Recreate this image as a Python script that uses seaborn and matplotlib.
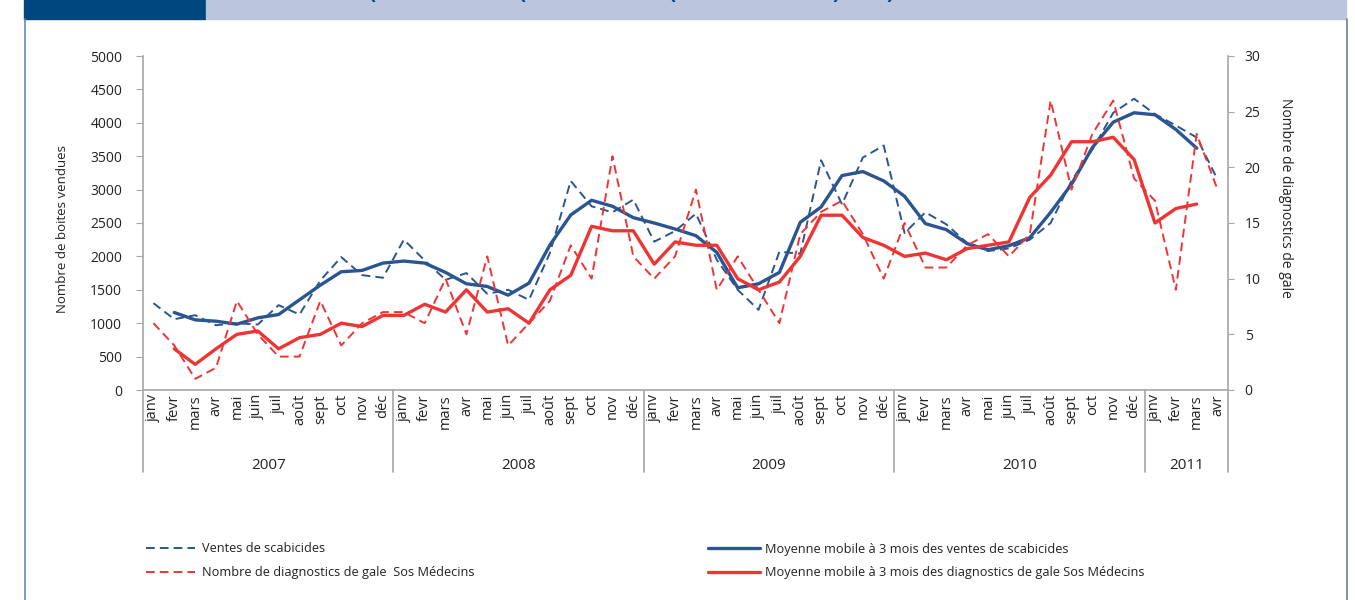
import numpy as np
import pandas as pd
import matplotlib.pyplot as plt
import seaborn as sns
from matplotlib.lines import Line2D
from matplotlib.patches import Rectangle

# Data (monthly, janv 2007 -> avr 2011)
months = ['janv', 'fevr', 'mars', 'avr', 'mai', 'juin', 'juil', 'août', 'sept', 'oct', 'nov', 'déc']
years = ['2007', '2008', '2009', '2010', '2011']
months_per_year = [12, 12, 12, 12, 4]
month_labels = months * 4 + months[:4]

ventes = [1300, 1060, 1120, 970, 1000, 980, 1270, 1130, 1640, 1990, 1720, 1680,
          2250, 1940, 1650, 1750, 1440, 1500, 1350, 2050, 3130, 2750, 2660, 2850,
          2220, 2380, 2640, 1950, 1500, 1200, 2070, 2040, 3440, 2780, 3480, 3660,
          2350, 2660, 2480, 2200, 2080, 2120, 2250, 2500, 3130, 3600, 4150, 4360,
          4130, 3960, 3780, 3150]
ventes_mm = [np.nan, 1160, 1050, 1030, 985, 1080, 1130, 1350, 1570, 1770, 1790, 1900,
             1930, 1900, 1760, 1590, 1550, 1420, 1600, 2170, 2620, 2840, 2750, 2580,
             2500, 2410, 2310, 2060, 1530, 1590, 1760, 2510, 2740, 3210, 3270, 3130,
             2900, 2490, 2400, 2190, 2100, 2160, 2280, 2660, 3080, 3630, 4010, 4150,
             4120, 3900, 3620, np.nan]
diag = [6, 4, 1, 2, 8, 5, 3, 3, 8, 4, 6, 7,
        7, 6, 10, 5, 12, 4, 6, 8, 13, 10, 21, 12,
        10, 12, 18, 9, 12, 9, 6, 14, 16, 17, 14, 10,
        15, 11, 11, 13, 14, 12, 14, 26, 18, 23, 26, 19,
        17, 9, 23, 18]
diag_mm = [np.nan, 3.7, 2.3, 3.7, 5.0, 5.3, 3.7, 4.7, 5.0, 6.0, 5.7, 6.7,
           6.7, 7.7, 7.0, 9.0, 7.0, 7.3, 6.0, 9.0, 10.3, 14.7, 14.3, 14.3,
           11.3, 13.3, 13.0, 13.0, 10.0, 9.0, 9.7, 12.0, 15.7, 15.7, 13.7, 13.0,
           12.0, 12.3, 11.7, 12.7, 13.0, 13.3, 17.3, 19.3, 22.3, 22.3, 22.7, 20.7,
           15.0, 16.3, 16.7, np.nan]

df = pd.DataFrame({'idx': np.arange(len(month_labels)), 'ventes': ventes, 'ventes_mm': ventes_mm,
                   'diag': diag, 'diag_mm': diag_mm})

blue = '#2a5591'
red = '#ee3535'
grey = '#a6a6a6'
dash = (0, (4.5, 2.6))

sns.set_style('white')
plt.rcParams['font.family'] = ['Open Sans', 'DejaVu Sans']
plt.rcParams['text.color'] = '#222222'
plt.rcParams['xtick.color'] = '#222222'
plt.rcParams['ytick.color'] = '#222222'

fig = plt.figure(figsize=(13.55, 6), dpi=100)

# header band and frame
fig.patches.append(Rectangle((24 / 1355, 1 - 19 / 600), (206 - 24) / 1355, 19 / 600,
                             transform=fig.transFigure, color='#00467f', zorder=0))
fig.patches.append(Rectangle((206 / 1355, 1 - 19 / 600), (1346 - 206) / 1355, 19 / 600,
                             transform=fig.transFigure, color='#b9c6de', zorder=0))
fig.add_artist(Line2D([25 / 1355, 25 / 1355], [0, 1 - 19 / 600], color='#5a8cc0', lw=1.2))
fig.add_artist(Line2D([1346.5 / 1355, 1346.5 / 1355], [0, 1 - 19 / 600], color='#6d7f99', lw=1.2))
# bottom of the title line, cut off by the page edge as in the source
for xp, ch in [(372, '('), (522, '('), (672, '('), (836, ')'), (890, ')')]:
    fig.text(xp / 1355, 1 + 2 / 600, ch, color='#00467f', fontsize=15, fontweight='bold',
             ha='center', va='baseline')

ax = fig.add_axes([143 / 1355, 210 / 600, 1085 / 1355, 334 / 600])
ax2 = ax.twinx()

sns.lineplot(data=df, x='idx', y='ventes', ax=ax, color=blue, linewidth=1.4, linestyle=dash)
sns.lineplot(data=df, x='idx', y='ventes_mm', ax=ax, color=blue, linewidth=2.4)
sns.lineplot(data=df, x='idx', y='diag', ax=ax2, color=red, linewidth=1.4, linestyle=dash)
sns.lineplot(data=df, x='idx', y='diag_mm', ax=ax2, color=red, linewidth=2.4)

n = len(month_labels)
ax.set_xlim(-0.5, n - 0.5)
ax.set_ylim(0, 5000)
ax2.set_ylim(0, 30)
ax.set_yticks(np.arange(0, 5001, 500))
ax2.set_yticks(np.arange(0, 31, 5))
ax.set_xticks(range(n))
ax.set_xticklabels(month_labels, rotation=90, fontsize=10.5)
ax.tick_params(axis='x', length=0, pad=3)
ax.tick_params(axis='y', direction='out', length=5, color=grey, labelsize=10, pad=10)
ax2.tick_params(axis='y', direction='out', length=4, color=grey, labelsize=10, pad=8)
ax.set_xlabel('')
ax.set_ylabel('')
ax2.set_ylabel('')

for a in (ax, ax2):
    for s in a.spines.values():
        s.set_color(grey)
        s.set_linewidth(1.2)
    a.spines['top'].set_visible(False)
ax.spines['right'].set_visible(False)
ax2.spines['left'].set_visible(False)
ax2.spines['bottom'].set_visible(False)

# year groups below month labels
tr = ax.get_xaxis_transform()
bounds = [-0.5]
for k in months_per_year:
    bounds.append(bounds[-1] + k)
for b in bounds:
    ax.plot([b, b], [0, -0.246], transform=tr, color=grey, lw=1.2, clip_on=False)
for y, b0, b1 in zip(years, bounds[:-1], bounds[1:]):
    ax.text((b0 + b1) / 2, -0.225, y, transform=tr, ha='center', va='center', fontsize=11)

fig.text(62 / 1355, 1 - 229 / 600, 'Nombre de boites vendues', rotation=90,
         ha='center', va='center', fontsize=9.5)
fig.text(1285 / 1355, 1 - 198 / 600, 'Nombre de diagnostics de gale', rotation=270,
         ha='center', va='center', fontsize=10)

# legend in two columns
h1 = [Line2D([], [], color=blue, lw=1.4, linestyle=dash),
      Line2D([], [], color=red, lw=1.4, linestyle=dash)]
h2 = [Line2D([], [], color=blue, lw=2.4), Line2D([], [], color=red, lw=2.4)]
fig.legend(h1, ['Ventes de scabicides', 'Nombre de diagnostics de gale  Sos Médecins'],
           loc='upper left', bbox_to_anchor=(134 / 1355, 1 - 531 / 600), frameon=False,
           fontsize=9.2, handlelength=3.9, handletextpad=0.55, labelspacing=0.85)
fig.legend(h2, ['Moyenne mobile à 3 mois des ventes de scabicides',
                'Moyenne mobile à 3 mois des diagnostics de gale Sos Médecins'],
           loc='upper left', bbox_to_anchor=(696 / 1355, 1 - 531 / 600), frameon=False,
           fontsize=9.2, handlelength=4.1, handletextpad=0.4, labelspacing=0.85)

fig.savefig('out.png', dpi=100)
